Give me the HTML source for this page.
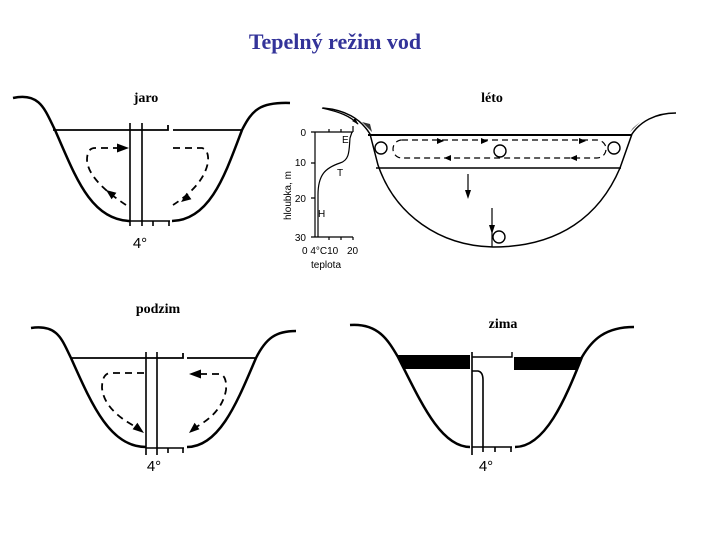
<!DOCTYPE html>
<html><head><meta charset="utf-8"><style>
html,body{margin:0;padding:0;background:#fff;width:720px;height:540px;overflow:hidden}
svg{display:block}
.l{font-family:"Liberation Serif",serif;font-weight:bold;font-size:14px;fill:#000}
.s{font-family:"Liberation Sans",sans-serif;font-size:10px;fill:#000}
.d{font-family:"Liberation Sans",sans-serif;font-size:15px;fill:#000}
</style></head><body>
<svg width="720" height="540" viewBox="0 0 720 540" xmlns="http://www.w3.org/2000/svg">
<defs>
<marker id="b" viewBox="0 0 10 10" refX="9" refY="5" markerWidth="5" markerHeight="5" orient="auto"><path d="M0,2 L10,5 L0,8z" fill="#000"/></marker>
</defs>
<text x="335" y="49" text-anchor="middle" font-family="Liberation Serif,serif" font-weight="bold" font-size="22" fill="#333399">Tepelný režim vod</text>

<!-- JARO -->
<text class="l" x="146" y="102" text-anchor="middle">jaro</text>
<g fill="none" stroke="#000">
<path d="M13,98 C40,92 45,110 55,130 C75,175 90,220 130,221" stroke-width="2.5"/>
<path d="M172,221 C210,220 225,175 242,130 C252,110 260,102 290,103" stroke-width="2.5"/>
<path d="M53,130 H130 M130,130 H168 V125 M173,130 H242" stroke-width="1.8"/>
<path d="M130,123 V226 M142,123 V226 M130,221 H170 M153,221 V226 M169,221 V226" stroke-width="1.6"/>
<g stroke-width="1.8" stroke-dasharray="7,5">
<path d="M120,148 H95 Q87,148 87,160 Q88,180 126,205"/>
<path d="M173,148 H202 Q209,150 208,162 Q204,185 173,205"/>
</g>
</g>
<g fill="#000">
<polygon points="129,148 117,143.5 117,152.5"/>
<polygon points="106,190 116.4,192.8 111.6,199.2"/>
<polygon points="181,202 191.4,199.2 186.6,192.8"/>
</g>
<text x="140" y="248" class="d" text-anchor="middle">4°</text>

<!-- graph -->
<g fill="none" stroke="#000" stroke-width="1.2">
<path d="M315,132 V237 H353 M315,132 H353 M311,132 H315 M311,163 H315 M311,198 H315 M311,237 H315 M329,132 V129 M341,132 V129 M353,132 V126 M329,237 V240 M341,237 V240 M353,237 V240"/>
<path d="M318,237 V195 C318,175 325,168 340,163 C350,160 349,150 350,138 L352,132"/>
<path d="M322,108 C340,112 350,116 358,124" stroke-width="1.4" marker-end="url(#b)"/>
</g>
<g class="s">
<text x="306" y="136" text-anchor="end">0</text><text x="306" y="166" text-anchor="end">10</text>
<text x="306" y="202" text-anchor="end">20</text><text x="306" y="241" text-anchor="end">30</text>
<text x="302" y="254">0 4°C10</text><text x="347" y="254">20</text>
<text x="311" y="268">teplota</text>
<text x="342" y="143">E</text><text x="337" y="176">T</text><text x="318" y="217">H</text>
<text transform="translate(291,220) rotate(-90)">hloubka, m</text>
</g>

<!-- LETO -->
<text class="l" x="492" y="102" text-anchor="middle">léto</text>
<g fill="none" stroke="#000">
<path d="M323,108 C345,110 360,118 370,134 L378,165 C395,215 440,246 493,247 C560,247 600,215 620,168 L632,134 C640,122 655,113 676,113" stroke-width="1.5"/>
<path d="M368,135 H632" stroke-width="2"/>
<path d="M376,168 H621" stroke-width="1.5"/>
<rect x="393" y="140" width="213" height="18" rx="9" stroke-width="1.2" stroke-dasharray="6,4"/>
<circle cx="381" cy="148" r="6" stroke-width="1.4"/>
<circle cx="500" cy="151" r="6" stroke-width="1.4"/>
<circle cx="614" cy="148" r="6" stroke-width="1.4"/>
<circle cx="499" cy="237" r="6" stroke-width="1.4"/>
<path d="M468,174 V192" stroke-width="1.2"/>
<path d="M492,208 V247" stroke-width="1.2"/>
</g>
<g fill="#000">
<polygon points="444,141 437,138 437,144"/>
<polygon points="488,141 481,138 481,144"/>
<polygon points="586,141 579,138 579,144"/>
<polygon points="444,158 451,155 451,161"/>
<polygon points="570,158 577,155 577,161"/>
<polygon points="468,199 465,190 471,190"/>
<polygon points="492,234 489,225 495,225"/>
</g>
<path d="M362,122 L372,132 L370,124z M630,132 L640,122 L633,128z" fill="#333"/>

<!-- PODZIM -->
<text class="l" x="158" y="313" text-anchor="middle">podzim</text>
<g fill="none" stroke="#000">
<path d="M31,328 C58,324 62,340 71,358 C92,405 110,447 146,447" stroke-width="2.5"/>
<path d="M187,447 C220,447 238,400 256,358 C266,338 276,331 296,331" stroke-width="2.5"/>
<path d="M71,358 H146 M146,358 H183 V353 M187,358 H256" stroke-width="1.8"/>
<path d="M146,352 V455 M157,352 V455 M146,448 H184 M168,448 V453 M183,448 V453" stroke-width="1.6"/>
<g stroke-width="1.8" stroke-dasharray="7,5">
<path d="M144,373 H110 Q102,374 102,388 Q104,410 136,427"/>
<path d="M200,374 H220 Q227,376 226,390 Q222,413 196,427"/>
</g>
</g>
<g fill="#000">
<polygon points="144,433 132.6,429.2 137.4,422.8"/>
<polygon points="189,374 201,369.5 201,378.5"/>
<polygon points="189,433 199.4,429.2 194.6,422.8"/>
</g>
<text x="154" y="471" class="d" text-anchor="middle">4°</text>

<!-- ZIMA -->
<text class="l" x="503" y="328" text-anchor="middle">zima</text>
<g fill="none" stroke="#000">
<path d="M350,325 C378,323 388,340 398,357 C420,400 440,447 470,447" stroke-width="2.5"/>
<path d="M515,447 C545,447 565,400 582,357 C592,340 605,327 634,327" stroke-width="2.5"/>
<path d="M472,357 H512 V352" stroke-width="1.4"/>
<path d="M472,352 V455 M472,371 H478 Q483,372 483,380 V447 M472,447 H512 M495,447 V452 M511,447 V452 M483,447 V452" stroke-width="1.6"/>
</g>
<path d="M397,355 H470 V369 H404z M514,357 H583 L577,370 H514z" fill="#000"/>
<text x="486" y="471" class="d" text-anchor="middle">4°</text>
</svg>
</body></html>
